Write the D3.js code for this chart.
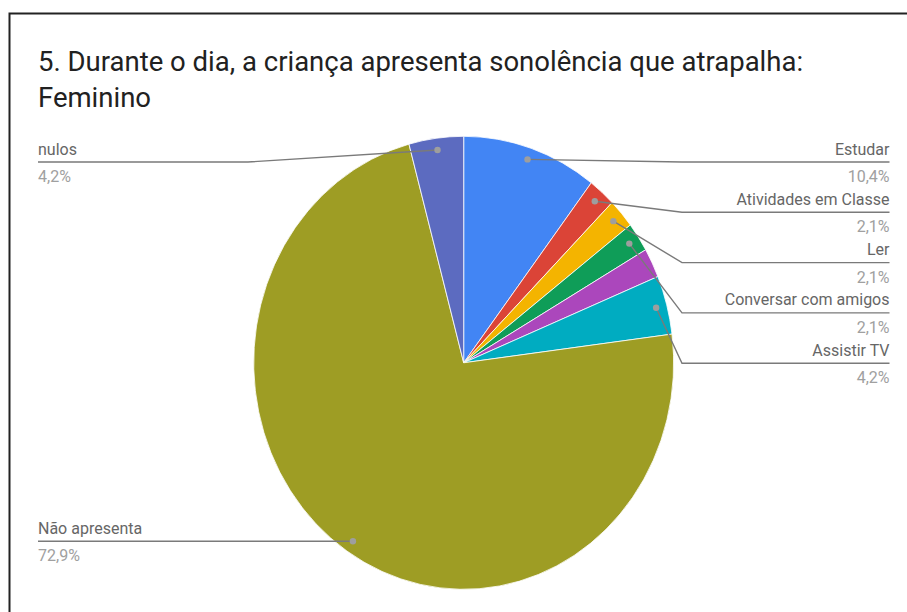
<!DOCTYPE html>
<html>
<head>
<meta charset="utf-8">
<script src="https://cdn.jsdelivr.net/npm/d3@7/dist/d3.min.js"></script>
<style>
  html, body { margin: 0; padding: 0; background: #fff; }
  svg { display: block; font-family: Roboto, "Noto Sans", sans-serif; }
</style>
</head>
<body>
<svg id="chart" width="907" height="612"></svg>
<script>
// Answers, in drawing order (clockwise from 12 o'clock)
const categories = ["Estudar", "Atividades em Classe", "Ler", "Conversar com amigos", "Outros", "Assistir TV", "Não apresenta", "nulos"];
const percents   = [10.4, 2.1, 2.1, 2.1, 2.1, 4.2, 72.9, 4.2];
const labelled   = [true, true, true, true, false, true, true, true];
const colors     = ["#4285f4", "#db4437", "#f4b400", "#0f9d58", "#ab47bc", "#00acc1", "#9e9d24", "#5c6bc0"];
const titleLines = ["5. Durante o dia, a criança apresenta sonolência que atrapalha:", "Feminino"];

const svg = d3.select("#chart");

// frame around the chart
svg.append("rect")
  .attr("x", 9.5).attr("y", 13.5)
  .attr("width", 1000).attr("height", 1000)
  .attr("fill", "none").attr("stroke", "#222").attr("stroke-width", 2);

// title
svg.append("text")
  .attr("x", 38).attr("y", 71)
  .attr("font-size", 27.5).attr("fill", "#212121")
  .selectAll("tspan").data(titleLines).join("tspan")
  .attr("x", 38).attr("dy", (d, i) => i === 0 ? 0 : 35.7)
  .text(d => d);

// pie geometry
const cx = 463.7, cy = 362.8, rx = 210, ry = 226.5;
const pie = d3.pie().sort(null).value(d => d.value);
const data = categories.map((c, i) => ({ name: c, value: percents[i], color: colors[i], show: labelled[i] }));
const arcs = pie(data);
const arc = d3.arc().innerRadius(0).outerRadius(rx);

const g = svg.append("g").attr("transform", `translate(${cx},${cy}) scale(1,${ry / rx})`);
g.selectAll("path").data(arcs).join("path")
  .attr("d", arc)
  .attr("fill", d => d.data.color)
  .attr("stroke", "#fff").attr("stroke-width", 0.8)
  .attr("vector-effect", "non-scaling-stroke");

// label anchors
const fmt = v => d3.format(".1f")(v).replace(".", ",") + "%";
const dotR = 0.948;
const items = arcs.filter(d => d.data.show).map(d => {
  const a = (d.startAngle + d.endAngle) / 2;
  return {
    d, a,
    px: cx + dotR * rx * Math.sin(a),
    py: cy - dotR * ry * Math.cos(a),
    right: Math.sin(a) > 0
  };
});

const minY = 162, gap = 50.3;
function layout(list) {
  list.sort((p, q) => p.py - q.py);
  let prev = -Infinity;
  list.forEach(it => {
    it.ly = Math.max(it.py, minY, prev + gap);
    prev = it.ly;
  });
}
const rightItems = items.filter(it => it.right);
const leftItems = items.filter(it => !it.right);
layout(rightItems);
layout(leftItems);

const lab = svg.append("g");
items.forEach(it => {
  const textX = it.right ? 889.5 : 38;
  const elbowX = it.right ? 682 : 248;
  lab.append("path")
    .attr("d", `M${it.px},${it.py}L${elbowX},${it.ly}L${textX},${it.ly}`)
    .attr("fill", "none").attr("stroke", "#7a7a7a").attr("stroke-width", 1.4);
  lab.append("circle")
    .attr("cx", it.px).attr("cy", it.py).attr("r", 3.2)
    .attr("fill", "#9e9e9e");
  lab.append("text")
    .attr("x", textX).attr("y", it.ly - 7.5)
    .attr("text-anchor", it.right ? "end" : "start")
    .attr("font-size", 16).attr("fill", "#666")
    .text(it.d.data.name);
  lab.append("text")
    .attr("x", textX).attr("y", it.ly + 20)
    .attr("text-anchor", it.right ? "end" : "start")
    .attr("font-size", 16).attr("fill", "#a0a0a0")
    .text(fmt(it.d.data.value));
});
</script>
</body>
</html>
